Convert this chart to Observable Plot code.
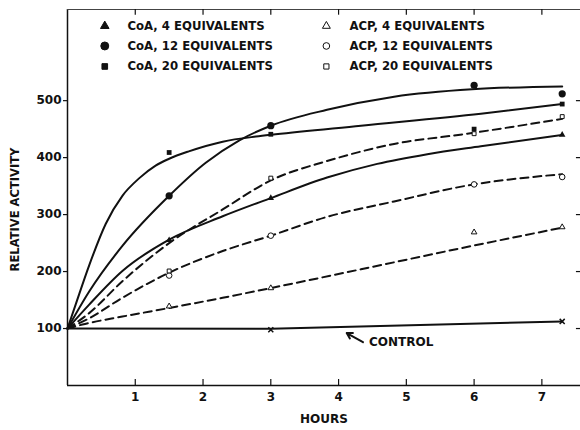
<!DOCTYPE html>
<html><head><meta charset="utf-8">
<script src="https://cdn.jsdelivr.net/npm/d3@7"></script>
<script src="https://cdn.jsdelivr.net/npm/@observablehq/plot@0.6"></script>
<style>body{margin:0;background:#fff} svg{display:block}</style>
</head><body><div id="chart"></div>
<script>
// ---- tick labels ----
const hourTicks = [1, 2, 3, 4, 5, 6, 7];
const activityTicks = [100, 200, 300, 400, 500];

// ---- measured points (hours, relative activity) ----
const coa4Points  = [[1.5, 255], [3, 329], [7.3, 440]];
const coa12Points = [[1.5, 333], [3, 456], [6, 527], [7.3, 512]];
const coa20Points = [[1.5, 409], [3, 441], [6, 450], [7.3, 494]];
const acp4Points  = [[1.5, 139], [3, 171], [6, 269], [7.3, 278]];
const acp12Points = [[1.5, 193], [3, 263], [6, 353], [7.3, 366]];
const acp20Points = [[1.5, 201], [3, 364], [6, 442], [7.3, 472]];
const controlPoints = [[3, 98], [7.3, 112.5]];

// ---- fitted curves ----
const coa4Curve  = [[0,100],[0.32,142],[0.81,201],[1.5,256],[2.29,297],[3,329],[3.83,365],[4.57,389],[5.31,406],[6.1,420],[7.3,440]];
const coa12Curve = [[0,100],[0.32,165],[0.81,245],[1.5,333],[2.04,391],[2.53,430],[3,456],[3.83,484],[4.82,507],[5.97,520],[7.3,525]];
const coa20Curve = [[0,100],[0.12,142],[0.32,211],[0.565,284],[0.81,333],[1.06,364],[1.3,386],[1.5,398],[1.79,411],[2.29,428],[2.78,437],[3.07,441],[4.33,456],[6.1,477],[7.3,494]];
const acp4Curve  = [[0,100],[0.22,107],[0.81,121],[1.5,136],[2.29,154],[3,171],[4.33,204],[5.97,245],[7.3,277]];
const acp12Curve = [[0,100],[0.32,118],[0.81,154],[1.5,198],[2.29,236],[3,263],[3.83,296],[4.82,323],[5.9,351],[7.3,371]];
const acp20Curve = [[0,100],[0.32,127],[0.81,183],[1.3,232],[1.5,250],[2.29,309],[3,360],[3.83,394],[4.82,424],[5.9,442],[7.3,468]];
const controlCurve = [[0,100],[3,99.5],[7.3,112.5]];

// ---- legend ----
const legendLabels = ["CoA, 4 EQUIVALENTS", "CoA, 12 EQUIVALENTS", "CoA, 20 EQUIVALENTS",
                      "ACP, 4 EQUIVALENTS", "ACP, 12 EQUIVALENTS", "ACP, 20 EQUIVALENTS"];
const legendSymbols = ["triangle", "circle", "square", "triangle", "circle", "square"];
const legendFilled  = [true, true, true, false, false, false];
const legendHour    = [0.55, 0.55, 0.55, 3.82, 3.82, 3.82];   // symbol column (hours)
const legendLevel   = [631, 596, 560, 631, 596, 560];         // row (activity units)
const legendTextHour = [0.885, 0.885, 0.885, 4.16, 4.16, 4.16];

// ---- annotation ----
const controlLabel = [{x: 4.45, y: 76, text: "CONTROL"}];
const controlArrow = [{x1: 4.36, y1: 76, x2: 4.12, y2: 92}];

const ink = "#111";
const FONT = "DejaVu Sans";
const xy = {x: d => d[0], y: d => d[1]};
const legend = legendLabels.map((t, i) => ({t, s: legendSymbols[i], f: legendFilled[i], x: legendHour[i], tx: legendTextHour[i], y: legendLevel[i]}));

const curveStyle = {...xy, stroke: ink, strokeWidth: 2, curve: "monotone-x"};
const dashStyle = {...curveStyle, strokeDasharray: "8,5"};

const chart = Plot.plot({
  width: 580, height: 430,
  marginLeft: 67, marginRight: 0, marginTop: 9, marginBottom: 45,
  style: {fontFamily: FONT, fontWeight: "bold", fontSize: "12px", color: ink, background: "#fff"},
  x: {domain: [0, 7.57]},
  y: {domain: [0, 660]},
  marks: [
    // frame
    Plot.ruleY([0], {stroke: ink, strokeWidth: 1.5}),
    Plot.ruleX([0], {stroke: ink, strokeWidth: 1.5}),
    Plot.ruleY([660], {stroke: "#444", strokeWidth: 1}),
    // inward ticks on bottom / top / right
    Plot.ruleX(hourTicks, {y1: 0, y2: 10.5, stroke: ink, strokeWidth: 1.2}),
    Plot.ruleX(hourTicks, {y1: 660, y2: 650, stroke: ink, strokeWidth: 1.2}),
    Plot.ruleY(activityTicks, {x1: 7.57, x2: 7.51, stroke: ink, strokeWidth: 1.2}),
    Plot.axisX({ticks: hourTicks, tickSize: 0, tickPadding: 7, tickFormat: d => d, label: null, fontSize: 12}),
    Plot.axisY({ticks: activityTicks, tickSize: 4, tickPadding: 2, label: null, fontSize: 12, strokeWidth: 1.2}),
    Plot.text(["HOURS"], {frameAnchor: "bottom", dy: 37, fontSize: 12, fill: ink}),
    Plot.text(["RELATIVE ACTIVITY"], {frameAnchor: "left", textAnchor: "middle", rotate: -90, dx: -52, dy: 12, fontSize: 11.5, fill: ink}),
    // curves
    Plot.line(coa20Curve, curveStyle),
    Plot.line(coa12Curve, curveStyle),
    Plot.line(coa4Curve, curveStyle),
    Plot.line(acp20Curve, dashStyle),
    Plot.line(acp12Curve, dashStyle),
    Plot.line(acp4Curve, dashStyle),
    Plot.line(controlCurve, {...xy, stroke: ink, strokeWidth: 2}),
    // measured points
    Plot.dot(coa4Points, {...xy, symbol: "triangle", r: 2.4, fill: ink}),
    Plot.dot(coa12Points, {...xy, symbol: "circle", r: 3.6, fill: ink}),
    Plot.dot(coa20Points, {...xy, symbol: "square", r: 2.7, fill: ink}),
    Plot.dot(acp4Points, {...xy, symbol: "triangle", r: 2.1, fill: "#fff", stroke: ink, strokeWidth: 1}),
    Plot.dot(acp12Points, {...xy, symbol: "circle", r: 2.8, fill: "#fff", stroke: ink, strokeWidth: 1}),
    Plot.dot(acp20Points, {...xy, symbol: "square", r: 2.2, fill: "#fff", stroke: ink, strokeWidth: 1}),
    Plot.dot(controlPoints, {...xy, symbol: "times", r: 2.4, stroke: ink, strokeWidth: 1.5}),
    // legend
    Plot.dot(legend, {x: "x", y: "y", symbol: d => d.s, r: d => d.f ? (d.s === "circle" ? 3.3 : 2.1) : (d.s === "circle" ? 2.3 : 1.8),
      fill: d => d.f ? ink : "#fff", stroke: ink, strokeWidth: 1}),
    Plot.text(legend, {x: "tx", y: "y", text: "t", textAnchor: "start", fontSize: 11.7, fill: ink}),
    // control annotation
    Plot.arrow(controlArrow, {x1: "x1", y1: "y1", x2: "x2", y2: "y2", stroke: ink, strokeWidth: 2, headLength: 7}),
    Plot.text(controlLabel, {x: "x", y: "y", text: "text", textAnchor: "start", fontSize: 12, fill: ink})
  ]
});
document.getElementById("chart").append(chart);
</script></body></html>
